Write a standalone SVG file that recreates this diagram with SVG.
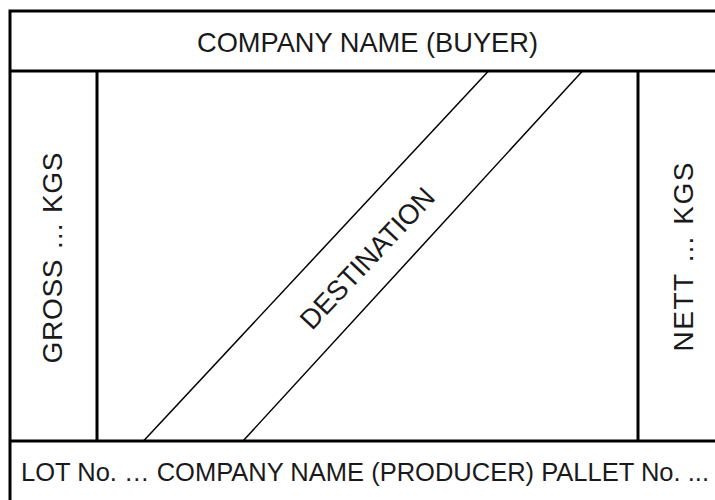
<svg xmlns="http://www.w3.org/2000/svg" width="715" height="500" viewBox="0 0 715 500">
<style>
.frame{fill:none;stroke:#000;stroke-width:3}
.diag{fill:none;stroke:#000;stroke-width:1.5}
.t{font-family:"Liberation Sans",Arial,sans-serif;font-size:28px;fill:#1a1a1a}
</style>
<rect width="715" height="500" fill="#fff"/>
<g id="frame">
<path class="frame" d="M10,505 V11 H720"/>
<line class="frame" x1="10" y1="71" x2="720" y2="71"/>
<line class="frame" x1="10" y1="441" x2="720" y2="441"/>
<line class="frame" x1="97" y1="71" x2="97" y2="441"/>
<line class="frame" x1="638" y1="71" x2="638" y2="441"/>
</g>
<g id="connectors">
<line class="diag" x1="143.5" y1="441" x2="488.5" y2="71"/>
<line class="diag" x1="243" y1="441" x2="582.5" y2="71"/>
</g>
<g id="buyer">
<text class="t" x="367.5" y="52" text-anchor="middle" textLength="341" lengthAdjust="spacingAndGlyphs">COMPANY NAME (BUYER)</text>
</g>
<g id="gross">
<text class="t" transform="translate(62,258) rotate(-90)" text-anchor="middle" textLength="211">GROSS … KGS</text>
</g>
<g id="nett">
<text class="t" transform="translate(693,257) rotate(-90)" text-anchor="middle" textLength="189">NETT … KGS</text>
</g>
<g id="destination">
<text class="t" transform="translate(367,258) rotate(-46.8)" y="10" text-anchor="middle" textLength="182" lengthAdjust="spacingAndGlyphs">DESTINATION</text>
</g>
<g id="producer">
<text class="t" x="21" y="481" style="font-size:25.3px" textLength="688" lengthAdjust="spacingAndGlyphs">LOT No. … COMPANY NAME (PRODUCER) PALLET No. ...</text>
</g>
</svg>
